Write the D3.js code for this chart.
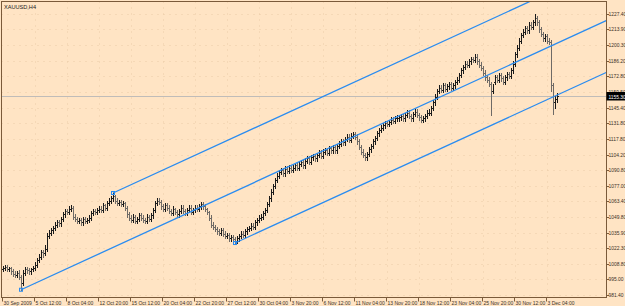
<!DOCTYPE html>
<html>
<head>
<meta charset="utf-8">
<script src="https://cdn.jsdelivr.net/npm/d3@7"></script>
<style>
  body { margin: 0; background: #FFE4C4; }
  svg { display: block; font-family: "Liberation Sans", Arial, sans-serif; }
</style>
</head>
<body>
<svg id="chart" width="625" height="306"></svg>
<script>
// chart title
const symbol = "XAUUSD,H4"

// time axis labels and the bar they sit on
const xLabels = ["30 Sep 2009","5 Oct 12:00","8 Oct 04:00","12 Oct 20:00","15 Oct 12:00","20 Oct 04:00",
  "22 Oct 20:00","27 Oct 12:00","30 Oct 04:00","3 Nov 20:00","6 Nov 12:00","11 Nov 04:00",
  "13 Nov 20:00","18 Nov 12:00","23 Nov 04:00","25 Nov 20:00","30 Nov 12:00","3 Dec 04:00"]
const xLabelBars = [0,16,32,48,64,80,96,112,128,144,160,176,192,208,224,240,256,272]

// price axis labels
const yLabels = ["1227.40","1213.90","1200.30","1186.20","1172.80","1159.50","1145.40","1131.80","1117.80",
  "1104.20","1090.80","1077.00","1063.40","1049.80","1035.90","1022.30","1008.80","995.00","981.40"]

// H4 bars (open, high, low, close)
const opens = [1004,1005,1006,1004,1005,1002,1000,999,1001,997,
  992,1001,1004,1003,1002,1004,1005,1008,1012,1015,
  1019,1018,1022,1033,1036,1038,1040,1043,1045,1044,
  1048,1052,1055,1054,1057,1058,1050,1048,1046,1047,
  1045,1048,1046,1047,1049,1053,1055,1054,1056,1057,
  1056,1060,1058,1062,1064,1066,1068,1064,1062,1063,
  1061,1062,1058,1052,1049,1047,1050,1046,1048,1051,
  1049,1047,1046,1050,1048,1051,1056,1062,1064,1063,
  1059,1057,1060,1058,1055,1053,1057,1054,1052,1055,
  1058,1055,1053,1056,1058,1054,1056,1058,1057,1059,
  1061,1059,1057,1054,1049,1043,1041,1039,1037,1036,
  1038,1035,1033,1034,1031,1032,1030,1029,1031,1033,
  1035,1034,1037,1039,1040,1042,1041,1045,1047,1049,
  1050,1053,1056,1061,1066,1072,1077,1082,1086,1089,
  1091,1088,1092,1090,1093,1091,1093,1095,1093,1096,
  1098,1095,1099,1101,1098,1102,1103,1101,1104,1106,
  1103,1107,1108,1106,1110,1108,1111,1108,1112,1114,
  1116,1115,1118,1120,1117,1121,1122,1120,1116,1111,
  1107,1104,1102,1105,1109,1112,1116,1119,1123,1126,
  1128,1130,1132,1131,1133,1135,1134,1136,1136,1137,
  1138,1136,1139,1141,1138,1136,1140,1142,1139,1137,
  1135,1136,1138,1141,1141,1145,1150,1155,1160,1163,
  1161,1165,1162,1164,1166,1163,1165,1168,1170,1174,
  1178,1181,1184,1183,1186,1188,1187,1190,1186,1183,
  1180,1176,1172,1170,1166,1160,1168,1172,1170,1174,
  1171,1168,1172,1175,1173,1178,1184,1192,1198,1204,
  1209,1212,1215,1213,1218,1216,1220,1224,1220,1214,
  1210,1206,1208,1204,1203,1165,1150,1153]
const highs = [1007,1008,1008,1006,1006,1004,1002,1002,1003,999,
  1003,1006,1006,1005,1005,1007,1010,1014,1017,1021,
  1021,1025,1036,1038,1040,1042,1045,1047,1047,1050,
  1054,1057,1057,1059,1060,1059,1052,1050,1049,1049,
  1050,1050,1049,1051,1055,1057,1057,1058,1059,1059,
  1062,1061,1064,1066,1068,1071,1069,1066,1065,1065,
  1064,1063,1059,1054,1051,1052,1051,1050,1053,1053,
  1051,1049,1052,1051,1053,1058,1064,1066,1066,1065,
  1061,1062,1062,1060,1057,1059,1058,1056,1057,1060,
  1060,1057,1058,1060,1060,1058,1060,1060,1061,1063,
  1063,1061,1058,1055,1051,1045,1043,1041,1039,1040,
  1040,1037,1036,1036,1034,1034,1032,1033,1035,1037,
  1037,1039,1041,1042,1044,1044,1047,1049,1051,1052,
  1055,1058,1063,1068,1074,1079,1084,1088,1091,1093,
  1093,1094,1094,1095,1094,1095,1097,1097,1098,1100,
  1100,1101,1103,1103,1104,1105,1105,1106,1108,1108,
  1109,1110,1110,1112,1112,1113,1113,1114,1116,1118,
  1118,1120,1122,1122,1123,1124,1124,1122,1118,1113,
  1109,1106,1107,1111,1114,1118,1121,1125,1128,1130,
  1132,1134,1134,1135,1137,1137,1138,1139,1139,1140,
  1140,1141,1143,1143,1140,1142,1144,1144,1141,1139,
  1138,1140,1143,1144,1147,1152,1157,1162,1165,1165,
  1167,1167,1166,1168,1168,1167,1170,1172,1176,1180,
  1183,1186,1186,1188,1190,1190,1192,1192,1188,1185,
  1182,1178,1174,1172,1168,1166,1174,1174,1176,1176,
  1173,1174,1177,1177,1180,1186,1194,1200,1206,1211,
  1214,1217,1217,1220,1220,1222,1227,1226,1222,1216,
  1212,1210,1210,1206,1205,1167,1156,1158]
const lows = [1002,1003,1002,1002,1000,998,997,997,995,986,
  990,999,1001,1000,1000,1002,1003,1006,1010,1013,
  1015,1016,1020,1031,1034,1036,1038,1041,1042,1042,
  1046,1050,1052,1052,1055,1048,1046,1044,1044,1043,
  1043,1044,1044,1045,1047,1051,1052,1052,1054,1054,
  1054,1056,1056,1060,1062,1064,1062,1060,1060,1059,
  1059,1056,1050,1047,1045,1045,1044,1044,1046,1047,
  1045,1044,1044,1046,1046,1049,1054,1060,1061,1057,
  1055,1055,1056,1053,1051,1051,1052,1050,1050,1053,
  1053,1051,1051,1054,1052,1052,1054,1055,1055,1057,
  1057,1055,1052,1047,1041,1039,1037,1035,1034,1034,
  1033,1031,1031,1029,1029,1028,1026,1027,1029,1031,
  1032,1032,1035,1037,1038,1039,1039,1043,1045,1047,
  1048,1051,1054,1059,1064,1070,1075,1080,1084,1087,
  1086,1086,1088,1088,1089,1089,1091,1091,1091,1094,
  1093,1093,1097,1096,1096,1100,1099,1099,1102,1101,
  1101,1105,1104,1104,1106,1106,1106,1106,1110,1112,
  1113,1113,1116,1115,1115,1119,1118,1114,1109,1105,
  1102,1100,1100,1103,1107,1110,1114,1117,1121,1124,
  1126,1128,1129,1129,1131,1132,1132,1134,1134,1135,
  1134,1134,1137,1136,1134,1134,1138,1137,1135,1133,
  1133,1134,1136,1139,1139,1143,1148,1153,1158,1159,
  1159,1160,1160,1162,1161,1161,1163,1166,1168,1172,
  1176,1179,1181,1181,1184,1185,1185,1184,1181,1178,
  1174,1170,1168,1164,1139,1158,1166,1168,1168,1169,
  1166,1166,1170,1171,1171,1176,1182,1190,1196,1202,
  1207,1210,1211,1211,1214,1214,1218,1218,1212,1208,
  1204,1204,1202,1201,1160,1140,1145,1150]
const closes = [1005,1006,1004,1005,1002,1000,999,1001,997,992,
  1001,1004,1003,1002,1004,1005,1008,1012,1015,1019,
  1018,1022,1033,1036,1038,1040,1043,1045,1044,1048,
  1052,1055,1054,1057,1058,1050,1048,1046,1047,1045,
  1048,1046,1047,1049,1053,1055,1054,1056,1057,1056,
  1060,1058,1062,1064,1066,1068,1064,1062,1063,1061,
  1062,1058,1052,1049,1047,1050,1046,1048,1051,1049,
  1047,1046,1050,1048,1051,1056,1062,1064,1063,1059,
  1057,1060,1058,1055,1053,1057,1054,1052,1055,1058,
  1055,1053,1056,1058,1054,1056,1058,1057,1059,1061,
  1059,1057,1054,1049,1043,1041,1039,1037,1036,1038,
  1035,1033,1034,1031,1032,1030,1029,1031,1033,1035,
  1034,1037,1039,1040,1042,1041,1045,1047,1049,1050,
  1053,1056,1061,1066,1072,1077,1082,1086,1089,1091,
  1088,1092,1090,1093,1091,1093,1095,1093,1096,1098,
  1095,1099,1101,1098,1102,1103,1101,1104,1106,1103,
  1107,1108,1106,1110,1108,1111,1108,1112,1114,1116,
  1115,1118,1120,1117,1121,1122,1120,1116,1111,1107,
  1104,1102,1105,1109,1112,1116,1119,1123,1126,1128,
  1130,1132,1131,1133,1135,1134,1136,1136,1137,1138,
  1136,1139,1141,1138,1136,1140,1142,1139,1137,1135,
  1136,1138,1141,1141,1145,1150,1155,1160,1163,1161,
  1165,1162,1164,1166,1163,1165,1168,1170,1174,1178,
  1181,1184,1183,1186,1188,1187,1190,1186,1183,1180,
  1176,1172,1170,1166,1160,1168,1172,1170,1174,1171,
  1168,1172,1175,1173,1178,1184,1192,1198,1204,1209,
  1212,1215,1213,1218,1216,1220,1224,1220,1214,1210,
  1206,1208,1204,1203,1165,1150,1153,1155.3]

// trend channel: anchor bar/price and a second point on each line
const trendFromBar = [9, 55, 116]
const trendFromPrice = [986, 1070.7, 1026.9]
const trendToBar = [218.5, 235, 280]
const trendToPrice = [1154.7, 1215.5, 1158.8]

const lastPrice = 1155.30

// layout
const plot = { left: 1.5, top: 1.5, right: 606.5, bottom: 297.5 }
const svg = d3.select("#chart")

const x = d3.scaleLinear()
            .domain([0, 301.5])
            .range([3, 606])
const y = d3.scaleLinear()
            .domain([981.4, 1227.4])
            .range([295, 14])

svg.append("defs").append("clipPath").attr("id", "clip")
   .append("rect")
   .attr("x", plot.left).attr("y", plot.top)
   .attr("width", plot.right - plot.left).attr("height", plot.bottom - plot.top)

// dotted grid
const grid = svg.append("g").attr("stroke", "#EBCDA8").attr("stroke-dasharray", "1,5")
grid.selectAll("line.h")
    .data(yLabels)
    .enter().append("line")
    .attr("x1", plot.left).attr("x2", plot.right)
    .attr("y1", d => Math.round(y(+d)) + 0.5).attr("y2", d => Math.round(y(+d)) + 0.5)
grid.selectAll("line.v")
    .data(xLabelBars.slice(1))
    .enter().append("line")
    .attr("x1", d => Math.round(x(d)) + 0.5).attr("x2", d => Math.round(x(d)) + 0.5)
    .attr("y1", plot.top).attr("y2", plot.bottom)

// current price line
svg.append("line")
   .attr("x1", plot.left).attr("x2", plot.right)
   .attr("y1", Math.round(y(lastPrice)) + 0.5).attr("y2", Math.round(y(lastPrice)) + 0.5)
   .attr("stroke", "#C0BCB8")

// bars
const bars = svg.append("g").attr("clip-path", "url(#clip)")
const bar = bars.selectAll("g")
                .data(closes)
                .enter()
                .append("g")
                .attr("stroke", (d, i) => d >= opens[i] ? "#1a1a1a" : "#6e6a66")
bar.append("line")
   .attr("x1", (d, i) => Math.round(x(i)) + 0.5).attr("x2", (d, i) => Math.round(x(i)) + 0.5)
   .attr("y1", (d, i) => Math.round(y(highs[i]))).attr("y2", (d, i) => Math.round(y(lows[i])) + 1)
bar.append("line")
   .attr("x1", (d, i) => Math.round(x(i)) - 1).attr("x2", (d, i) => Math.round(x(i)))
   .attr("y1", (d, i) => Math.round(y(opens[i])) + 0.5).attr("y2", (d, i) => Math.round(y(opens[i])) + 0.5)
bar.append("line")
   .attr("x1", (d, i) => Math.round(x(i)) + 1).attr("x2", (d, i) => Math.round(x(i)) + 2)
   .attr("y1", d => Math.round(y(d)) + 0.5).attr("y2", d => Math.round(y(d)) + 0.5)

// trend lines, extended to the right edge
const trends = svg.append("g").attr("clip-path", "url(#clip)")
trendFromBar.forEach(function(b, k) {
  const slope = (trendToPrice[k] - trendFromPrice[k]) / (trendToBar[k] - b)
  const endBar = x.invert(plot.right + 5)
  trends.append("line")
        .attr("x1", x(b)).attr("y1", y(trendFromPrice[k]))
        .attr("x2", x(endBar)).attr("y2", y(trendFromPrice[k] + slope * (endBar - b)))
        .attr("stroke", "#2A8CF0").attr("stroke-width", 1.3)
  trends.append("rect")
        .attr("x", x(b) - 1.5).attr("y", y(trendFromPrice[k]) - 1.5)
        .attr("width", 3).attr("height", 3)
        .attr("fill", "none").attr("stroke", "#2A8CF0").attr("stroke-width", 1)
})

// frame
svg.append("rect")
   .attr("x", plot.left).attr("y", plot.top)
   .attr("width", plot.right - plot.left).attr("height", plot.bottom - plot.top)
   .attr("fill", "none").attr("stroke", "#7A5A3A")

// title
svg.append("text")
   .attr("x", 4).attr("y", 8.5)
   .attr("font-size", 5.6).attr("fill", "#222")
   .text(symbol)

// price axis
const yAxis = svg.append("g")
yAxis.selectAll("line")
     .data(yLabels)
     .enter().append("line")
     .attr("x1", plot.right).attr("x2", plot.right + 2.5)
     .attr("y1", d => Math.round(y(+d)) + 0.5).attr("y2", d => Math.round(y(+d)) + 0.5)
     .attr("stroke", "#7A5A3A")
yAxis.selectAll("text")
     .data(yLabels)
     .enter().append("text")
     .attr("x", plot.right + 2)
     .attr("y", d => y(+d) + 2)
     .attr("font-size", 4.9).attr("fill", "#3a3026")
     .text(d => d)

// last price box
svg.append("rect")
   .attr("x", plot.right).attr("y", Math.round(y(lastPrice)) - 4)
   .attr("width", 20).attr("height", 8.5)
   .attr("fill", "#000")
svg.append("text")
   .attr("x", plot.right + 2).attr("y", y(lastPrice) + 2.2)
   .attr("font-size", 4.9).attr("fill", "#fff")
   .text(lastPrice.toFixed(2))

// time axis
const xAxis = svg.append("g")
xAxis.selectAll("line")
     .data(xLabelBars)
     .enter().append("line")
     .attr("x1", d => Math.round(x(d)) - 0.5).attr("x2", d => Math.round(x(d)) - 0.5)
     .attr("y1", plot.bottom).attr("y2", plot.bottom + 4)
     .attr("stroke", "#7A5A3A")
xAxis.selectAll("text")
     .data(xLabels)
     .enter().append("text")
     .attr("x", (d, i) => x(xLabelBars[i]) + 0.5)
     .attr("y", plot.bottom + 7)
     .attr("font-size", 5).attr("fill", "#3a3026")
     .text(d => d)
</script>
</body>
</html>
